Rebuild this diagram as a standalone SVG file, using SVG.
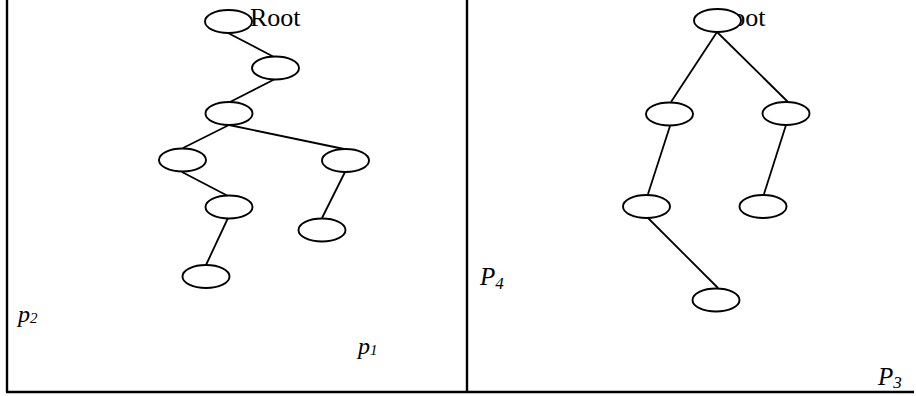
<svg xmlns="http://www.w3.org/2000/svg" width="916" height="396" viewBox="0 0 916 396">
<style>
.n{fill:#fff;stroke:#000;stroke-width:1.9}
.e{stroke:#000;stroke-width:1.8;fill:none}
.b{stroke:#000;stroke-width:2.4;fill:none}
</style>
<rect width="916" height="396" fill="#fff"/>
<g id="frame">
<line class="b" x1="7" y1="0" x2="7" y2="392"/>
<line class="b" x1="467" y1="0" x2="467" y2="392"/>
<line class="b" x1="6" y1="392" x2="914" y2="392"/>
</g>
<g id="labels" font-family="'Liberation Serif', 'Times New Roman', serif" fill="#000">
<text x="250" y="26" font-size="26">Root</text>
<text x="715" y="26" font-size="26">Root</text>
<text x="18" y="322" font-size="24" font-style="italic">p<tspan font-size="15" dy="1">2</tspan></text>
<text x="358" y="354" font-size="24" font-style="italic">p<tspan font-size="15" dy="1">1</tspan></text>
<text x="480" y="285" font-size="25" font-style="italic">P<tspan font-size="17" dy="4">4</tspan></text>
<text x="878" y="385" font-size="25" font-style="italic">P<tspan font-size="17" dy="3">3</tspan></text>
</g>
<g id="connectors">
<line class="e" x1="228" y1="33" x2="274" y2="57"/>
<line class="e" x1="275" y1="79" x2="230" y2="102"/>
<line class="e" x1="229" y1="125" x2="183" y2="148"/>
<line class="e" x1="229" y1="125" x2="344" y2="149"/>
<line class="e" x1="182" y1="172" x2="228" y2="196"/>
<line class="e" x1="345" y1="172" x2="322" y2="218"/>
<line class="e" x1="228" y1="218" x2="206" y2="265"/>
<line class="e" x1="717" y1="32" x2="671" y2="102"/>
<line class="e" x1="717" y1="32" x2="788" y2="102"/>
<line class="e" x1="670" y1="126" x2="648" y2="194"/>
<line class="e" x1="786" y1="125" x2="764" y2="194"/>
<line class="e" x1="648" y1="218" x2="718" y2="288"/>
</g>
<g id="L-root"><ellipse class="n" cx="228.5" cy="21.5" rx="23.5" ry="11.5"/></g>
<g id="L-n2"><ellipse class="n" cx="275.5" cy="68" rx="23.5" ry="11.5"/></g>
<g id="L-n3"><ellipse class="n" cx="229" cy="113.5" rx="23.5" ry="11.5"/></g>
<g id="L-n4"><ellipse class="n" cx="182.5" cy="160" rx="23.5" ry="11.5"/></g>
<g id="L-n5"><ellipse class="n" cx="345.5" cy="160.5" rx="23.5" ry="11.5"/></g>
<g id="L-n6"><ellipse class="n" cx="229" cy="207" rx="23.5" ry="11.5"/></g>
<g id="L-n7"><ellipse class="n" cx="322" cy="230" rx="23.5" ry="11.5"/></g>
<g id="L-n8"><ellipse class="n" cx="206" cy="276.5" rx="23.5" ry="11.5"/></g>
<g id="R-root"><ellipse class="n" cx="717.5" cy="20.5" rx="23.5" ry="11.5"/></g>
<g id="R-n2"><ellipse class="n" cx="669.5" cy="114" rx="23.5" ry="11.5"/></g>
<g id="R-n3"><ellipse class="n" cx="786" cy="113.5" rx="23.5" ry="11.5"/></g>
<g id="R-n4"><ellipse class="n" cx="646.5" cy="206.5" rx="23.5" ry="11.5"/></g>
<g id="R-n5"><ellipse class="n" cx="763" cy="206.5" rx="23.5" ry="11.5"/></g>
<g id="R-n6"><ellipse class="n" cx="716" cy="300" rx="23.5" ry="11.5"/></g>
</svg>
